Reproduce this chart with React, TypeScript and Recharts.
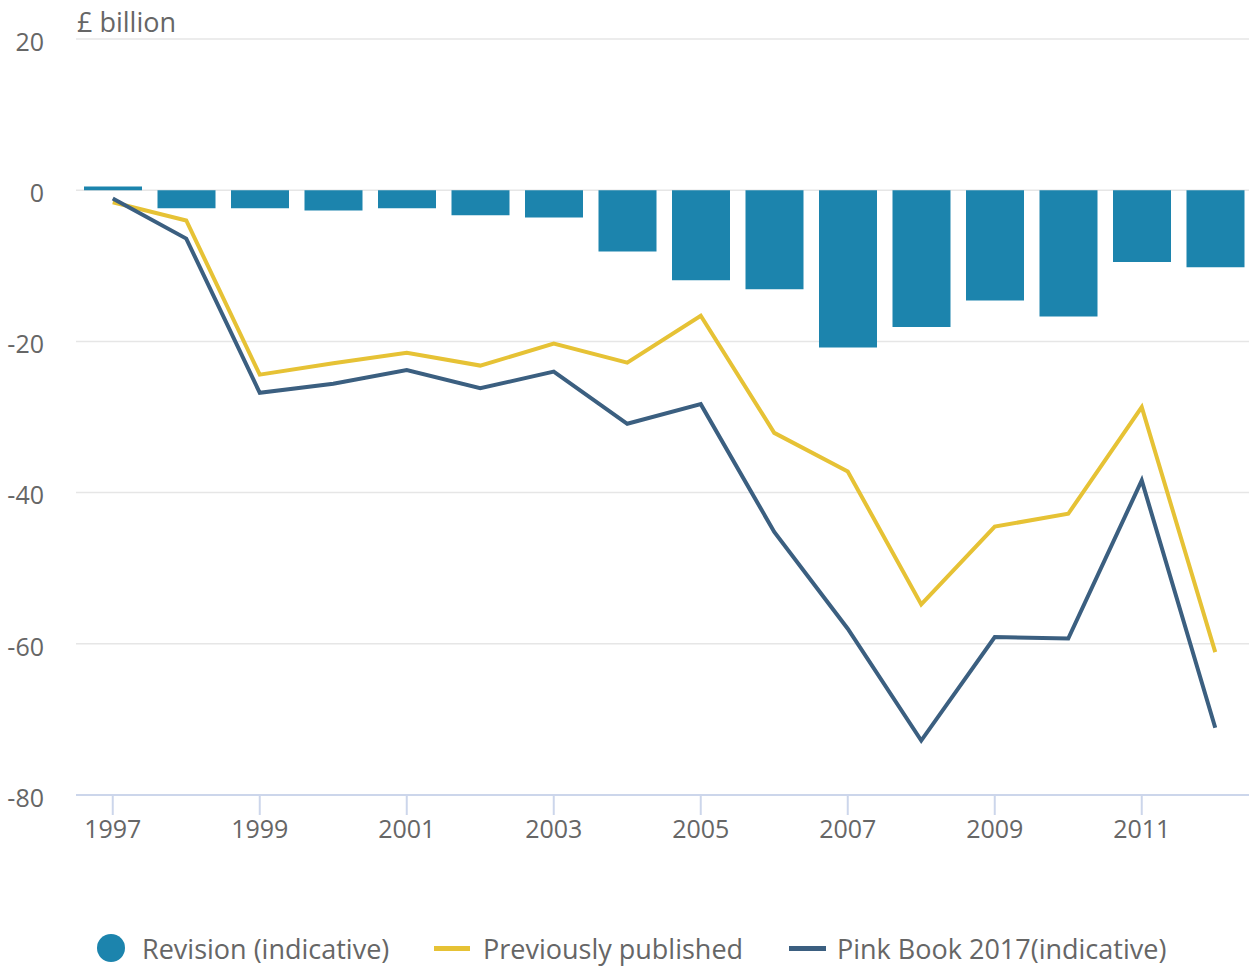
import React from "react";
import { ComposedChart, Bar, Line, XAxis, YAxis, CartesianGrid } from "recharts";

const years = ["1997", "1998", "1999", "2000", "2001", "2002", "2003", "2004", "2005", "2006", "2007", "2008", "2009", "2010", "2011", "2012"];
const revision = [0.5, -2.4, -2.4, -2.7, -2.4, -3.3, -3.6, -8.1, -11.9, -13.1, -20.8, -18.1, -14.6, -16.7, -9.5, -10.2];
const previous = [-1.6, -4.0, -24.4, -22.9, -21.5, -23.2, -20.3, -22.8, -16.6, -32.1, -37.2, -54.8, -44.5, -42.8, -28.7, -61.1];
const pinkBook = [-1.1, -6.4, -26.8, -25.6, -23.8, -26.2, -24.0, -30.9, -28.3, -45.2, -58.0, -72.8, -59.1, -59.3, -38.4, -71.1];
const yTicks = [-80, -60, -40, -20, 0, 20];

const data = years.map((year, i) => ({
  year,
  revision: revision[i],
  previous: previous[i],
  pinkBook: pinkBook[i],
}));

const font = "'Open Sans', sans-serif";
const textColor = "#666666";

export default function App() {
  return (
    <div style={{ position: "absolute", left: 0, top: 0, width: 1249, height: 967, overflow: "hidden", fontFamily: font, background: "#fff" }}>
      <div style={{ position: "absolute", left: 77, top: 3, fontSize: 27, color: textColor, lineHeight: "37px" }}>£ billion</div>
      <ComposedChart width={1252} height={967} data={data} margin={{ top: 39, right: 0, bottom: 112, left: 0 }}>
        <CartesianGrid vertical={false} stroke="#e6e6e6" strokeWidth={1.5} />
        <XAxis
          dataKey="year"
          interval={1}
          height={60}
          tickSize={20}
          tickMargin={5}
          axisLine={{ stroke: "#ccd6eb", strokeWidth: 2 }}
          tickLine={{ stroke: "#ccd6eb", strokeWidth: 2 }}
          tick={{ fill: textColor, fontSize: 25, fontFamily: font }}
        />
        <YAxis
          width={76}
          domain={[-80, 20]}
          ticks={yTicks}
          axisLine={false}
          tickLine={false}
          tickSize={0}
          tickMargin={32}
          tick={{ fill: textColor, fontSize: 25, fontFamily: font, dy: 3 }}
        />
        <Bar dataKey="revision" fill="#1c84ad" barSize={58} isAnimationActive={false} />
        <Line dataKey="previous" stroke="#e6c235" strokeWidth={4} dot={false} isAnimationActive={false} />
        <Line dataKey="pinkBook" stroke="#3b5f80" strokeWidth={4} dot={false} isAnimationActive={false} />
      </ComposedChart>
      <div style={{ position: "absolute", top: 932, left: 0, width: 1249, height: 34, fontSize: 27, color: textColor, lineHeight: "34px", whiteSpace: "nowrap" }}>
        <span style={{ position: "absolute", left: 97, top: 2, width: 28, height: 28, borderRadius: "50%", background: "#1c84ad" }} />
        <span style={{ position: "absolute", left: 142, top: 0 }}>Revision (indicative)</span>
        <span style={{ position: "absolute", left: 434, top: 14, width: 36, height: 5, background: "#e6c235" }} />
        <span style={{ position: "absolute", left: 483, top: 0 }}>Previously published</span>
        <span style={{ position: "absolute", left: 789, top: 14, width: 37, height: 5, background: "#3b5f80" }} />
        <span style={{ position: "absolute", left: 837, top: 0 }}>Pink Book 2017(indicative)</span>
      </div>
    </div>
  );
}
